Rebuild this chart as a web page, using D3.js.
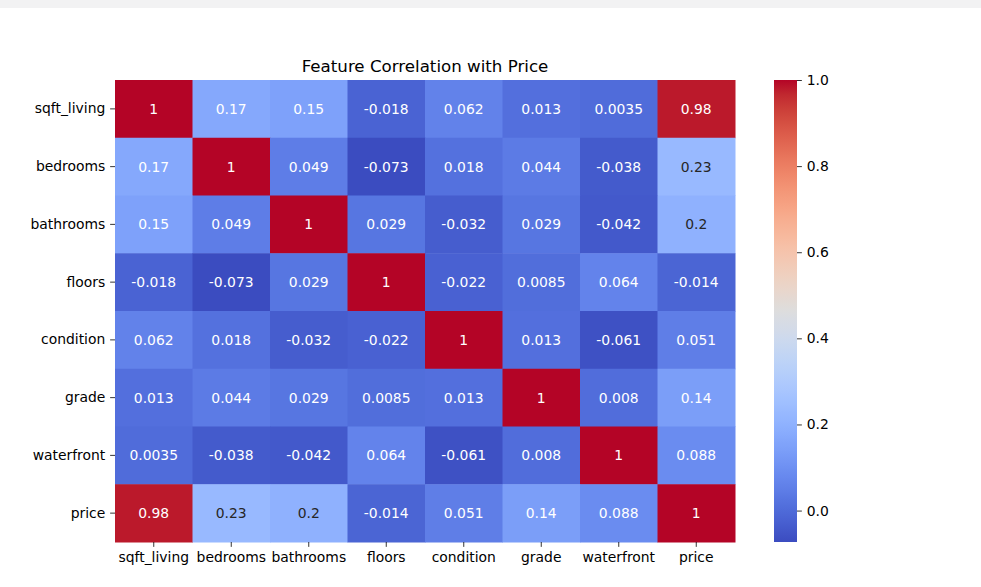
<!DOCTYPE html>
<html>
<head>
<meta charset="utf-8">
<script src="https://cdn.jsdelivr.net/npm/d3@7"></script>
<style>
  html, body { margin: 0; padding: 0; background: #fff; }
  svg { display: block; font-family: "DejaVu Sans", sans-serif; }
</style>
</head>
<body>
<svg id="chart" width="981" height="587"></svg>
<script>
// ---- data ----
const features = ["sqft_living", "bedrooms", "bathrooms", "floors", "condition", "grade", "waterfront", "price"];
const row_sqft_living = [1, 0.17, 0.15, -0.018, 0.062, 0.013, 0.0035, 0.98];
const row_bedrooms    = [0.17, 1, 0.049, -0.073, 0.018, 0.044, -0.038, 0.23];
const row_bathrooms   = [0.15, 0.049, 1, 0.029, -0.032, 0.029, -0.042, 0.2];
const row_floors      = [-0.018, -0.073, 0.029, 1, -0.022, 0.0085, 0.064, -0.014];
const row_condition   = [0.062, 0.018, -0.032, -0.022, 1, 0.013, -0.061, 0.051];
const row_grade       = [0.013, 0.044, 0.029, 0.0085, 0.013, 1, 0.008, 0.14];
const row_waterfront  = [0.0035, -0.038, -0.042, 0.064, -0.061, 0.008, 1, 0.088];
const row_price       = [0.98, 0.23, 0.2, -0.014, 0.051, 0.14, 0.088, 1];
const matrix = [row_sqft_living, row_bedrooms, row_bathrooms, row_floors, row_condition, row_grade, row_waterfront, row_price];
const colorbarTicks = [0, 0.2, 0.4, 0.6, 0.8, 1.0];
const chartTitle = "Feature Correlation with Price";

// coolwarm colormap samples (Moreland)
const coolwarm = [
 [59,76,192],[68,90,204],[77,104,215],[87,117,225],[98,130,234],[108,142,241],[119,154,247],[130,165,251],
 [141,176,254],[152,185,255],[163,194,255],[174,201,253],[184,208,249],[194,213,244],[204,217,238],[213,219,230],
 [221,221,221],[229,216,209],[236,211,197],[241,204,185],[245,196,173],[247,187,160],[247,177,148],[247,166,135],
 [244,154,123],[241,141,111],[236,127,99],[229,112,88],[222,96,77],[213,80,66],[203,62,56],[192,40,47],[180,4,38]
].map(c => d3.rgb(c[0], c[1], c[2]).toString());
const interp = d3.piecewise(d3.interpolateRgb, coolwarm);

const cells = [];
matrix.forEach((row, i) => row.forEach((v, j) => cells.push({r: features[i], c: features[j], v})));
const vmin = d3.min(cells, d => d.v), vmax = d3.max(cells, d => d.v);

// ---- layout ----
const svg = d3.select("#chart");
svg.append("rect").attr("x", 0).attr("y", 0).attr("width", 981).attr("height", 8).attr("fill", "#f2f2f3");

const mLeft = 115, mRight = 735, mTop = 80, mBottom = 542;
const fs = "13.9px";
const tickLen = 4.86, tickPad = 4.86;
const x = d3.scaleBand().domain(features).range([mLeft, mRight]).padding(0);
const y = d3.scaleBand().domain(features).range([mTop, mBottom]).padding(0);
const color = d3.scaleSequential(interp).domain([vmin, vmax]);

function lum(c) {
  const rgb = d3.rgb(c);
  const f = v => { v /= 255; return v <= 0.03928 ? v / 12.92 : Math.pow((v + 0.055) / 1.055, 2.4); };
  return 0.2126 * f(rgb.r) + 0.7152 * f(rgb.g) + 0.0722 * f(rgb.b);
}
const fmt = d3.formatLocale({decimal: ".", thousands: ",", grouping: [3], currency: ["", ""], minus: "-"}).format(".2~g");

svg.append("g").selectAll("rect").data(cells).join("rect")
  .attr("x", d => x(d.c)).attr("y", d => y(d.r))
  .attr("width", x.bandwidth() + 0.5).attr("height", y.bandwidth() + 0.5)
  .attr("fill", d => color(d.v));

svg.append("g").selectAll("text").data(cells).join("text")
  .attr("x", d => x(d.c) + x.bandwidth() / 2)
  .attr("y", d => y(d.r) + y.bandwidth() / 2)
  .attr("text-anchor", "middle").attr("dominant-baseline", "central")
  .attr("font-size", fs)
  .attr("fill", d => lum(color(d.v)) > 0.408 ? "#262626" : "#ffffff")
  .text(d => fmt(d.v));

// axes
const yAxis = svg.append("g").attr("transform", `translate(${mLeft},0)`)
  .call(d3.axisLeft(y).tickSize(tickLen).tickPadding(tickPad));
const xAxis = svg.append("g").attr("transform", `translate(0,${mBottom})`)
  .call(d3.axisBottom(x).tickSize(tickLen).tickPadding(tickPad));
[xAxis, yAxis].forEach(a => {
  a.select(".domain").remove();
  a.selectAll("line").attr("stroke", "#000").attr("stroke-width", 0.8);
  a.selectAll("text").attr("font-size", fs).attr("fill", "#000").attr("font-family", "DejaVu Sans, sans-serif");
});

// title
svg.append("text").attr("x", (mLeft + mRight) / 2).attr("y", 72)
  .attr("text-anchor", "middle").attr("font-size", "16.67px").attr("fill", "#000")
  .text(chartTitle);

// colorbar
const cbX = 774, cbW = 23;
const cy = d3.scaleLinear().domain([vmin, vmax]).range([mBottom, mTop]);
const defs = svg.append("defs");
const grad = defs.append("linearGradient").attr("id", "cbgrad").attr("x1", 0).attr("y1", 1).attr("x2", 0).attr("y2", 0);
d3.range(0, 1.0001, 1 / 64).forEach(t => grad.append("stop").attr("offset", t).attr("stop-color", interp(t)));
svg.append("rect").attr("x", cbX).attr("y", mTop).attr("width", cbW).attr("height", mBottom - mTop).attr("fill", "url(#cbgrad)");
const cAxis = svg.append("g").attr("transform", `translate(${cbX + cbW},0)`)
  .call(d3.axisRight(cy).tickValues(colorbarTicks).tickFormat(d3.format(".1f")).tickSize(tickLen).tickPadding(tickPad));
cAxis.select(".domain").remove();
cAxis.selectAll("line").attr("stroke", "#000").attr("stroke-width", 0.8);
cAxis.selectAll("text").attr("font-size", fs).attr("fill", "#000").attr("font-family", "DejaVu Sans, sans-serif");
</script>
</body>
</html>
